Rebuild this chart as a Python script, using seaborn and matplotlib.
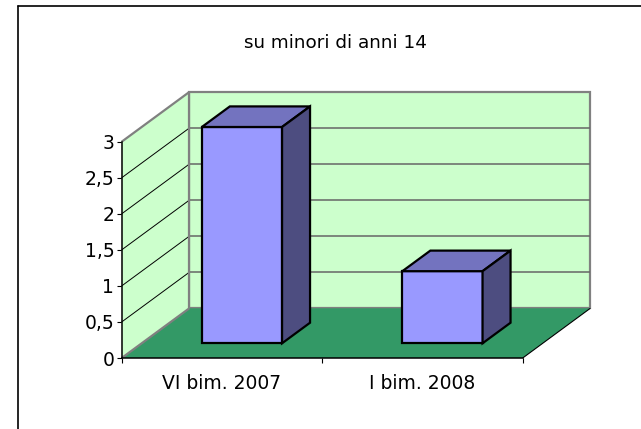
import numpy as np
import pandas as pd
import matplotlib
matplotlib.use("Agg")
import matplotlib.pyplot as plt
import seaborn as sns
from matplotlib.patches import Polygon
from matplotlib.transforms import ScaledTranslation, IdentityTransform
from matplotlib.lines import Line2D

# ---- data ----
title = "su minori di anni 14"
categories = ["VI bim. 2007", "I bim. 2008"]
values = [3, 1]
y_ticks = [0, 0.5, 1, 1.5, 2, 2.5, 3]
y_tick_labels = ["0", "0,5", "1", "1,5", "2", "2,5", "3"]

# ---- style ----
sns.set_theme(style="white")
plt.rcParams['font.family'] = ['DejaVu Sans']

DPI = 100
W, H = 641, 429
fig = plt.figure(figsize=(W / DPI, H / DPI), dpi=DPI)
fig.patch.set_facecolor("white")

# front plane axes (depth 0)
ax = fig.add_axes([121.7 / W, (H - 358) / H, 401 / W, 216.3 / H])
ax.patch.set_alpha(0)

df = pd.DataFrame({"cat": categories, "val": values})
sns.barplot(data=df, x="cat", y="val", color="#9999FF", width=0.4,
            edgecolor="black", linewidth=1.6, saturation=1, ax=ax, zorder=5)
bars = list(ax.patches)
ax.set_xlim(-0.5, 1.5)
ax.set_ylim(0, 3)

# 3D depth (pixels)
DX, DY = 67.6, 49.7
F0, F1 = 0.296, 0.71

def P(x, y, f):
    d = ax.transData.transform((x, y))
    return (d[0] + f * DX, d[1] + f * DY)

def poly(pts, fc, ec="none", lw=0, z=1):
    p = Polygon(pts, closed=True, transform=IdentityTransform(), facecolor=fc,
                edgecolor=ec, linewidth=lw, clip_on=False, zorder=z,
                joinstyle="miter")
    ax.add_patch(p)
    return p

def line(p1, p2, color, lw, z=2):
    l = Line2D([p1[0], p2[0]], [p1[1], p2[1]], transform=IdentityTransform(),
               color=color, linewidth=lw, clip_on=False, zorder=z,
               solid_capstyle="butt")
    ax.add_line(l)

xl, xr = -0.5, 1.5
ytop = y_ticks[-1]
WALL = "#CCFFCC"
FLOOR = "#339966"
GRAY = "#808080"

# back wall
poly([P(xl, 0, 1), P(xr, 0, 1), P(xr, ytop, 1), P(xl, ytop, 1)], WALL, GRAY, 1.6, z=1)
# left wall
poly([P(xl, 0, 0), P(xl, ytop, 0), P(xl, ytop, 1), P(xl, 0, 1)], WALL, z=1)
# gridlines
for y in y_ticks[1:-1]:
    line(P(xl, y, 1), P(xr, y, 1), "#666666", 1.1, z=1.2)
    line(P(xl, y, 0), P(xl, y, 1), "black", 0.7, z=1.2)
# left wall outline
line(P(xl, ytop, 0), P(xl, ytop, 1), GRAY, 1.6, z=1.3)
line(P(xl, 0, 1), P(xl, ytop, 1), GRAY, 1.6, z=1.3)
# floor
poly([P(xl, 0, 0), P(xr, 0, 0), P(xr, 0, 1), P(xl, 0, 1)], FLOOR, z=1.5)
line(P(xl, 0, 0), P(xl, 0, 1), GRAY, 1.6, z=1.6)
line(P(xr, 0, 0), P(xr, 0, 1), "black", 0.8, z=1.6)

# bars: move front faces to depth F0, add top and side faces
off = ScaledTranslation(F0 * DX / DPI, F0 * DY / DPI, fig.dpi_scale_trans)
for b in bars:
    b.set_transform(ax.transData + off)
    b.set_clip_on(False)
    b.set_joinstyle("miter")
    x0, w, h = b.get_x(), b.get_width(), b.get_height()
    poly([P(x0, h, F0), P(x0 + w, h, F0), P(x0 + w, h, F1), P(x0, h, F1)],
         "#7373BF", "black", 1.6, z=5)
    poly([P(x0 + w, 0, F0), P(x0 + w, h, F0), P(x0 + w, h, F1), P(x0 + w, 0, F1)],
         "#4D4D80", "black", 1.6, z=5)

# axes decoration
for s in ["top", "right"]:
    ax.spines[s].set_visible(False)
for s in ["left", "bottom"]:
    ax.spines[s].set_color("black")
    ax.spines[s].set_linewidth(1.1)
    ax.spines[s].set_zorder(3)

ax.set_xlabel("")
ax.set_ylabel("")
ax.set_yticks(y_ticks, y_tick_labels)
ax.tick_params(axis="y", which="major", direction="out", length=3.3, width=0.8,
               pad=2, labelsize=13.5, colors="black", left=True)
ax.set_xticks([-0.5, 0.5, 1.5], minor=True)
ax.tick_params(axis="x", which="major", length=0, pad=11.5, labelsize=13.5,
               colors="black")
ax.tick_params(axis="x", which="minor", direction="out", length=3.6, width=0.8,
               colors="black", bottom=True)

# title
fig.text(335.8 / W, 1 - 43 / H, title, ha="center", va="center",
         fontsize=13.2, color="black")

# outer frame (top and left edges visible)
fig.add_artist(Line2D([17.5 / W, 17.5 / W], [0, 1 - 5.5 / H],
                      transform=fig.transFigure, color="black", lw=1.2))
fig.add_artist(Line2D([17.5 / W, 1], [1 - 5.5 / H, 1 - 5.5 / H],
                      transform=fig.transFigure, color="black", lw=1.2))

fig.savefig("out.png", dpi=DPI)
